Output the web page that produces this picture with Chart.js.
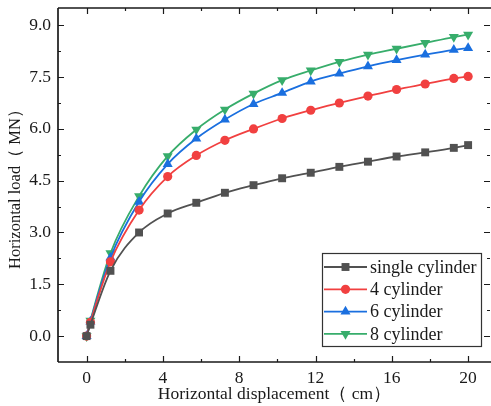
<!DOCTYPE html>
<html>
<head>
<meta charset="utf-8">
<script src="https://cdn.jsdelivr.net/npm/chart.js@4.4.0/dist/chart.umd.min.js"></script>
<style>
  html, body { margin: 0; padding: 0; background: #fff; overflow: hidden; }
  #wrap { width: 491px; height: 406px; }
</style>
</head>
<body>
<div id="wrap"><canvas id="load-chart"></canvas></div>
<script>
// horizontal displacement (cm)
const displacement = [0, 0.2, 1.25, 2.75, 4.25, 5.75, 7.25, 8.75, 10.25, 11.75, 13.25, 14.75, 16.25, 17.75, 19.25, 20];
// horizontal load (MN)
const singleCylinder = [0, 0.33, 1.89, 3.0, 3.55, 3.86, 4.15, 4.37, 4.57, 4.73, 4.90, 5.05, 5.20, 5.32, 5.45, 5.53];
const cylinder4 = [0, 0.40, 2.15, 3.65, 4.62, 5.23, 5.67, 6.0, 6.30, 6.54, 6.75, 6.95, 7.14, 7.30, 7.46, 7.52];
const cylinder6 = [0, 0.42, 2.27, 3.89, 4.98, 5.72, 6.27, 6.72, 7.04, 7.37, 7.60, 7.81, 7.99, 8.15, 8.29, 8.34];
const cylinder8 = [0, 0.45, 2.40, 4.05, 5.21, 5.98, 6.56, 7.02, 7.41, 7.69, 7.94, 8.15, 8.32, 8.49, 8.66, 8.73];

const seriesNames = ['single cylinder', '4 cylinder', '6 cylinder', '8 cylinder'];
const xTicks = [0, 4, 8, 12, 16, 20];
const xMinorTicks = [2, 6, 10, 14, 18];
const yTicks = [0, 1.5, 3, 4.5, 6, 7.5, 9];
const yMinorTicks = [0.75, 2.25, 3.75, 5.25, 6.75, 8.25];

const serif = "'Liberation Serif', 'Times New Roman', serif";
const ink = '#1a1a1a';

function pts(ys) {
  return displacement.map((x, i) => ({ x: x, y: ys[i] }));
}

function series(label, ys, color, style, radius, rotation) {
  return {
    label: label,
    data: pts(ys),
    borderColor: color,
    backgroundColor: color,
    borderWidth: 1.8,
    pointStyle: style,
    pointRadius: radius,
    pointRotation: rotation || 0,
    pointBorderWidth: 0,
    pointHoverRadius: radius,
    cubicInterpolationMode: 'monotone'
  };
}

// frame with inward ticks on all four sides
const frameTicks = {
  id: 'frameTicks',
  afterDatasetsDraw(chart) {
    const ctx = chart.ctx, a = chart.chartArea;
    const xs = chart.scales.x, ys = chart.scales.y;
    ctx.save();
    ctx.strokeStyle = ink;
    ctx.lineWidth = 1.7;
    ctx.beginPath();
    ctx.moveTo(a.left, a.top); ctx.lineTo(a.right, a.top);
    ctx.moveTo(a.left, a.top); ctx.lineTo(a.left, a.bottom);
    ctx.moveTo(a.left, a.bottom); ctx.lineTo(a.right, a.bottom);
    ctx.stroke();
    ctx.lineWidth = 1.2;
    ctx.beginPath();
    const tx = (v, len) => {
      const p = Math.round(xs.getPixelForValue(v)) + 0.5;
      ctx.moveTo(p, a.bottom); ctx.lineTo(p, a.bottom - len);
      ctx.moveTo(p, a.top); ctx.lineTo(p, a.top + len);
    };
    const ty = (v, len) => {
      const p = Math.round(ys.getPixelForValue(v)) + 0.5;
      ctx.moveTo(a.left, p); ctx.lineTo(a.left + len, p);
      ctx.moveTo(a.right - 1, p); ctx.lineTo(a.right - 1 - len, p);
    };
    xTicks.forEach(v => tx(v, 6));
    xMinorTicks.forEach(v => tx(v, 3));
    yTicks.forEach(v => ty(v, 6));
    yMinorTicks.forEach(v => ty(v, 3));
    ctx.stroke();
    ctx.restore();
  }
};

// boxed legend in the lower right of the plot
const boxLegend = {
  id: 'boxLegend',
  afterDraw(chart) {
    const ctx = chart.ctx, a = chart.chartArea;
    const w = 159, h = 93;
    const left = a.right - 10 - w, top = a.bottom - 16 - h;
    ctx.save();
    ctx.strokeStyle = '#333';
    ctx.lineWidth = 1.2;
    ctx.strokeRect(left + 0.5, top + 0.5, w, h);
    ctx.font = '18px ' + serif;
    ctx.textBaseline = 'middle';
    ctx.textAlign = 'left';
    chart.data.datasets.forEach((ds, i) => {
      const y = top + 14 + i * 22.3;
      ctx.strokeStyle = ds.borderColor;
      ctx.fillStyle = ds.backgroundColor;
      ctx.lineWidth = 1.8;
      ctx.beginPath();
      ctx.moveTo(left + 2, y); ctx.lineTo(left + 45, y);
      ctx.stroke();
      Chart.helpers.drawPoint(ctx, {
        pointStyle: ds.pointStyle, radius: ds.pointRadius,
        rotation: ds.pointRotation, borderWidth: 0
      }, left + 23.5, y);
      ctx.fillStyle = ink;
      ctx.fillText(ds.label, left + 48, y + 1);
    });
    ctx.restore();
  }
};

const loadChart = new Chart(document.getElementById('load-chart'), {
  type: 'line',
  plugins: [frameTicks, boxLegend],
  data: {
    datasets: [
      series(seriesNames[0], singleCylinder, '#515151', 'rect', 5.6),
      series(seriesNames[1], cylinder4, '#F14040', 'circle', 4.6),
      series(seriesNames[2], cylinder6, '#1A6FDF', 'triangle', 5.8),
      series(seriesNames[3], cylinder8, '#37AD6B', 'triangle', 5.8, 180)
    ]
  },
  options: {
    responsive: true,
    maintainAspectRatio: false,
    animation: false,
    layout: { autoPadding: false, padding: { top: 8, right: 0, left: 0, bottom: 0 } },
    plugins: {
      legend: { display: false },
      tooltip: { enabled: false }
    },
    scales: {
      x: {
        type: 'linear',
        min: -1.5,
        max: 21.2,
        afterBuildTicks: s => { s.ticks = xTicks.map(v => ({ value: v })); },
        afterFit: s => { s.height = 44; s.paddingLeft = 0; s.paddingRight = 0; },
        grid: { display: false, drawTicks: false },
        border: { display: false },
        ticks: { color: ink, font: { family: serif, size: 17.5 }, padding: 6, maxRotation: 0 },
        title: {
          display: true,
          text: 'Horizontal displacement（ cm）',
          color: ink,
          font: { family: serif, size: 17.5 },
          padding: { top: 0, bottom: 1 }
        }
      },
      y: {
        min: -0.75,
        max: 9.5,
        afterBuildTicks: s => { s.ticks = yTicks.map(v => ({ value: v })); },
        afterFit: s => { s.width = 58; s.paddingTop = 0; s.paddingBottom = 0; },
        grid: { display: false, drawTicks: false },
        border: { display: false },
        ticks: { color: ink, font: { family: serif, size: 17.5 }, padding: 7, callback: v => v.toFixed(1) },
        title: {
          display: true,
          text: 'Horizontal load（ MN）',
          color: ink,
          font: { family: serif, size: 16.5 },
          padding: { top: 6, bottom: 0 }
        }
      }
    }
  }
});
</script>
</body>
</html>
